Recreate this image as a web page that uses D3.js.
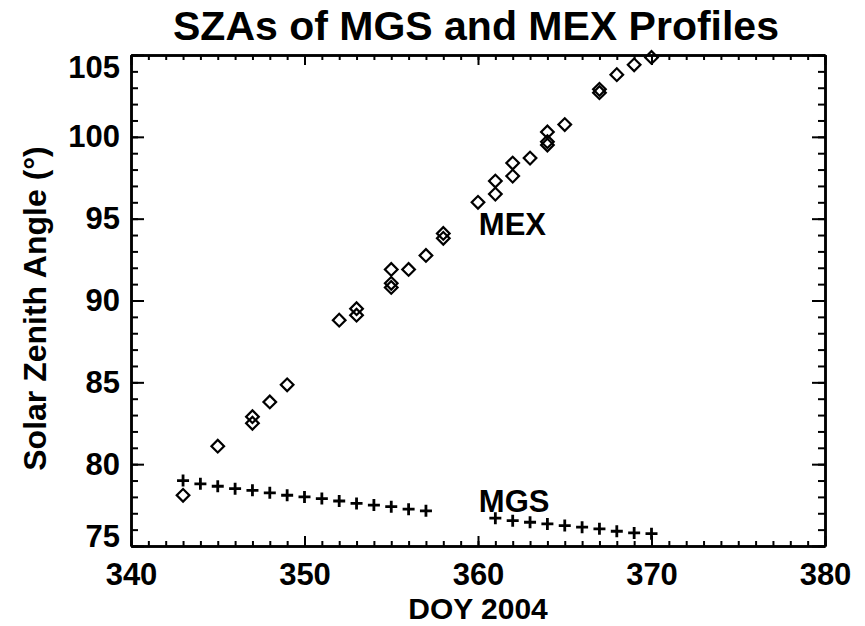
<!DOCTYPE html>
<html>
<head>
<meta charset="utf-8">
<script src="https://cdn.jsdelivr.net/npm/d3@7"></script>
<style>
  body { margin: 0; background: #fff; }
  text { font-family: "Liberation Sans", Arial, Helvetica, sans-serif; font-weight: bold; fill: #000; }
</style>
</head>
<body>
<div id="chart"></div>
<script>
// MEX profiles (diamonds)
const mexDoy = [343, 345, 347, 347, 348, 349, 352, 353, 353, 355, 355, 355, 356, 357, 358, 358,
  360, 361, 361, 362, 362, 363, 364, 364, 364, 365, 367, 367, 368, 369, 370];
const mexSza = [78.1, 81.1, 82.9, 82.5, 83.8, 84.85, 88.8, 89.5, 89.1, 91.9, 91.05, 90.8, 91.9, 92.75, 94.1, 93.8,
  96.0, 96.5, 97.3, 97.6, 98.4, 98.7, 100.3, 99.7, 99.5, 100.75, 102.9, 102.7, 103.8, 104.4, 104.85];

// MGS profiles (crosses)
const mgsDoy = [343, 344, 345, 346, 347, 348, 349, 350, 351, 352, 353, 354, 355, 356, 357,
  361, 362, 363, 364, 365, 366, 367, 368, 369, 370];
const mgsSza = [79.0, 78.8, 78.65, 78.5, 78.4, 78.25, 78.1, 78.0, 77.9, 77.75, 77.6, 77.5, 77.4, 77.25, 77.15,
  76.7, 76.55, 76.45, 76.35, 76.25, 76.15, 76.05, 75.9, 75.8, 75.75];

const xTicks = [340, 350, 360, 370, 380];
const yTicks = [75, 80, 85, 90, 95, 100, 105];

const width = 865, height = 626;
const margin = { top: 55, right: 40, bottom: 80, left: 131 };
const plotW = width - margin.left - margin.right;
const plotH = height - margin.top - margin.bottom;

const x = d3.scaleLinear().domain([340, 380]).range([0, plotW]);
const y = d3.scaleLinear().domain([75, 105]).range([plotH, 0]);

const svg = d3.select('#chart')
  .append('svg')
  .attr('width', width)
  .attr('height', height);

const g = svg.append('g')
  .attr('transform', 'translate(' + margin.left + ',' + margin.top + ')');

function styleAxis(sel) {
  sel.select('.domain').attr('stroke', '#000').attr('stroke-width', 2.5);
  sel.selectAll('.tick line').attr('stroke', '#000').attr('stroke-width', 2);
  sel.selectAll('.tick text').style('font-size', '31px');
}

const xMinor = d3.range(340, 381, 1);
const yMinor = d3.range(75, 106, 1);

// minor ticks
g.append('g').attr('transform', 'translate(0,' + plotH + ')')
  .call(d3.axisBottom(x).tickValues(xMinor).tickFormat('').tickSizeInner(-5).tickSizeOuter(0)).call(styleAxis);
g.append('g')
  .call(d3.axisTop(x).tickValues(xMinor).tickFormat('').tickSizeInner(-5).tickSizeOuter(0)).call(styleAxis);
g.append('g')
  .call(d3.axisLeft(y).tickValues(yMinor).tickFormat('').tickSizeInner(-7).tickSizeOuter(0)).call(styleAxis);
g.append('g').attr('transform', 'translate(' + plotW + ',0)')
  .call(d3.axisRight(y).tickValues(yMinor).tickFormat('').tickSizeInner(-7).tickSizeOuter(0)).call(styleAxis);

// major ticks
g.append('g').attr('transform', 'translate(0,' + plotH + ')')
  .call(d3.axisBottom(x).tickValues(xTicks).tickFormat(d3.format('d')).tickSizeInner(-10).tickSizeOuter(0).tickPadding(17))
  .call(styleAxis);
g.append('g')
  .call(d3.axisTop(x).tickValues(xTicks).tickFormat('').tickSizeInner(-10).tickSizeOuter(0)).call(styleAxis);
g.append('g')
  .call(d3.axisLeft(y).tickValues(yTicks).tickFormat(d3.format('d')).tickSizeInner(-13).tickSizeOuter(0).tickPadding(11))
  .call(styleAxis)
  .call(a => a.selectAll('.tick text')
    .attr('dy', d => d === 105 ? '0.71em' : (d === 75 ? '0em' : '0.32em')));
g.append('g').attr('transform', 'translate(' + plotW + ',0)')
  .call(d3.axisRight(y).tickValues(yTicks).tickFormat('').tickSizeInner(-13).tickSizeOuter(0)).call(styleAxis);

// MEX diamonds
const diamond = d3.symbol().type(d3.symbolSquare).size(80);
g.selectAll('.mex')
  .data(mexDoy.map((d, i) => [d, mexSza[i]]))
  .enter().append('path')
  .attr('class', 'mex')
  .attr('d', diamond)
  .attr('transform', d => 'translate(' + x(d[0]) + ',' + y(d[1]) + ') rotate(45)')
  .attr('fill', 'none')
  .attr('stroke', '#000')
  .attr('stroke-width', 2.2);

// MGS crosses
const cross = 'M-6,0H6M0,-6V6';
g.selectAll('.mgs')
  .data(mgsDoy.map((d, i) => [d, mgsSza[i]]))
  .enter().append('path')
  .attr('class', 'mgs')
  .attr('d', cross)
  .attr('transform', d => 'translate(' + x(d[0]) + ',' + y(d[1]) + ')')
  .attr('fill', 'none')
  .attr('stroke', '#000')
  .attr('stroke-width', 2.8);

// annotations
g.append('text').attr('x', x(360.05)).attr('y', 180)
  .style('font-size', '31px').text('MEX');
g.append('text').attr('x', x(360.05)).attr('y', 457)
  .style('font-size', '31px').text('MGS');

// titles
svg.append('text')
  .attr('x', margin.left + plotW / 2 - 2).attr('y', 40)
  .attr('text-anchor', 'middle')
  .style('font-size', '41px')
  .text('SZAs of MGS and MEX Profiles');

svg.append('text')
  .attr('x', margin.left + plotW / 2).attr('y', 619)
  .attr('text-anchor', 'middle')
  .style('font-size', '30px')
  .text('DOY 2004');

svg.append('text')
  .attr('transform', 'translate(46,' + (margin.top + plotH / 2 + 8) + ') rotate(-90)')
  .attr('text-anchor', 'middle')
  .style('font-size', '32px')
  .text('Solar Zenith Angle (°)');
</script>
</body>
</html>
